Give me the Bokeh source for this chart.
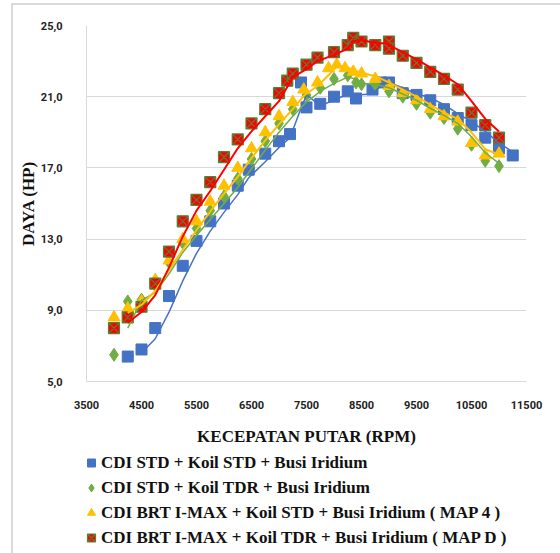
from bokeh.plotting import figure
from bokeh.layouts import column
from bokeh.models import FixedTicker, Legend, LegendItem, Range1d
from bokeh.embed import file_html
from bokeh.resources import INLINE

# ---- data ----
rpm_blue = [4250, 4500, 4750, 5000, 5250, 5500, 5750, 6000, 6250, 6450,
            6750, 7000, 7200, 7400, 7500, 7750, 8000, 8250, 8400, 8700,
            8850, 9000, 9250, 9500, 9750, 10000, 10250, 10500, 10750, 11000,
            11250]
hp_blue = [6.4, 6.8, 8.0, 9.8, 11.5, 12.9, 14.0, 15.0, 16.0, 16.9,
           17.8, 18.5, 18.9, 21.8, 20.4, 20.6, 21.0, 21.3, 20.9, 21.4,
           21.8, 21.8, 21.2, 21.1, 20.8, 20.3, 19.8, 19.4, 18.7, 18.1,
           17.7]

rpm_green = [4000, 4250, 4500, 4750, 5000, 5250, 5500, 5750, 6000, 6250,
             6500, 6750, 7000, 7250, 7500, 7750, 8000, 8250, 8400, 8500,
             8750, 9000, 9250, 9500, 9750, 10000, 10250, 10500, 10750, 11000]
hp_green = [6.5, 9.5, 9.6, 10.4, 11.7, 12.8, 13.6, 14.6, 15.4, 16.4,
            17.5, 18.5, 19.5, 20.3, 21.1, 21.5, 22.0, 22.2, 21.8, 21.7,
            21.7, 21.3, 21.0, 20.6, 20.1, 19.8, 19.2, 18.3, 17.4, 17.1]

rpm_yellow = [4000, 4250, 4500, 4750, 5000, 5250, 5500, 5750, 6000, 6250,
              6500, 6750, 7000, 7250, 7450, 7700, 7900, 8050, 8200, 8350,
              8500, 8750, 9000, 9250, 9500, 9750, 10000, 10250, 10500, 10750,
              11000]
hp_yellow = [8.6, 9.1, 9.5, 10.7, 11.8, 13.0, 14.0, 15.1, 16.0, 17.0,
             18.1, 19.0, 19.9, 20.7, 21.4, 21.8, 22.6, 22.8, 22.6, 22.4,
             22.3, 22.0, 21.6, 21.2, 20.8, 20.3, 19.9, 19.6, 18.4, 17.7,
             17.8]

rpm_red = [4000, 4250, 4500, 4750, 5000, 5250, 5500, 5750, 6000, 6250,
           6500, 6750, 7000, 7150, 7250, 7500, 7700, 8000, 8250, 8350,
           8500, 8750, 9000, 9000, 9250, 9500, 9750, 10000, 10250, 10500,
           10750, 11000]
hp_red = [8.0, 8.6, 9.2, 10.5, 12.3, 14.0, 15.2, 16.2, 17.6, 18.6,
          19.5, 20.3, 21.2, 21.9, 22.3, 22.8, 23.2, 23.5, 23.9, 24.3,
          24.1, 23.9, 24.1, 23.7, 23.3, 22.9, 22.4, 22.0, 21.4, 20.1,
          19.4, 18.7]

labels = ["CDI STD + Koil STD + Busi Iridium",
          "CDI STD + Koil TDR + Busi Iridium",
          "CDI BRT I-MAX + Koil STD + Busi Iridium ( MAP 4 )",
          "CDI BRT I-MAX + Koil TDR + Busi Iridium ( MAP D )"]

x_ticks = [3500, 4500, 5500, 6500, 7500, 8500, 9500, 10500, 11500]
y_ticks = [5, 9, 13, 17, 21, 25]
y_tick_labels = ["5,0", "9,0", "13,0", "17,0", "21,0", "25,0"]

styles = [
    dict(marker="square", fill_color="#4472C4", line_color="#4472C4", line_width=1),
    dict(marker="diamond", fill_color="#70AD47", line_color="#70AD47", line_width=1),
    dict(marker="triangle", fill_color="#FFC000", line_color="#FFC000", line_width=1),
    dict(marker="square_x", fill_color="#FF0000", line_color="#548235", line_width=1.2),
]
plot_sizes = [11, 13, 12, 11]
legend_sizes = [8, 10, 9, 8]


def moving_average(xs, ys):
    # 2-period moving average trendline
    return xs[1:], [(ys[i - 1] + ys[i]) / 2 for i in range(1, len(ys))]


p = figure(width=560, height=448, output_backend="svg", toolbar_location=None,
           x_range=Range1d(3500, 11500), y_range=Range1d(5, 25),
           min_border_left=86, min_border_right=34, min_border_top=25,
           min_border_bottom=67)
p.frame_align = False
p.outline_line_color = None
p.background_fill_color = "white"
p.border_fill_color = None

p.xgrid.grid_line_color = None
p.ygrid.grid_line_color = "#D9D9D9"
p.ygrid.grid_line_width = 1

p.xaxis.ticker = FixedTicker(ticks=x_ticks)
p.yaxis.ticker = FixedTicker(ticks=y_ticks)
p.yaxis.major_label_overrides = {t: l for t, l in zip(y_ticks, y_tick_labels)}

for ax in (p.xaxis[0], p.yaxis[0]):
    ax.axis_line_color = "#D9D9D9"
    ax.major_tick_line_color = None
    ax.minor_tick_line_color = None
    ax.major_label_text_font = "Roboto"
    ax.major_label_text_font_style = "bold"
    ax.major_label_text_font_size = "11px"
    ax.major_label_text_color = "#222222"
    ax.axis_label_text_font = "Liberation Serif"
    ax.axis_label_text_font_style = "bold"
    ax.axis_label_text_color = "#111111"

p.xaxis.major_label_standoff = 13
p.yaxis.major_label_standoff = 18
p.xaxis.axis_label = "KECEPATAN PUTAR (RPM)"
p.xaxis.axis_label_text_font_size = "17px"
p.xaxis.axis_label_standoff = 15
p.yaxis.axis_label = "DAYA (HP)"
p.yaxis.axis_label_text_font_size = "17px"
p.yaxis.axis_label_standoff = 0

series = [(rpm_blue, hp_blue), (rpm_green, hp_green),
          (rpm_yellow, hp_yellow), (rpm_red, hp_red)]
line_colors = ["#4472C4", "#70AD47", "#FFC000", "#FF0000"]
line_widths = [1.5, 1.5, 2, 2]

# markers
for (xs, ys), st, sz in zip(series, styles, plot_sizes):
    p.scatter(xs, ys, size=sz, **st)

# trendlines (2-period moving average)
for (xs, ys), col, w in zip(series, line_colors, line_widths):
    mx, my = moving_average(xs, ys)
    p.line(mx, my, line_color=col, line_width=w)

# ---- legend panel below the chart (its own canvas, data kept out of view) ----
lg = figure(width=560, height=105, output_backend="svg", toolbar_location=None,
            x_range=Range1d(0, 1), y_range=Range1d(0, 1),
            min_border=0, x_axis_location=None, y_axis_location=None)
lg.frame_align = False
lg.outline_line_color = None
lg.grid.visible = False
lg.background_fill_color = None
lg.border_fill_color = None

items = []
for lab, (xs, ys), st, sz in zip(labels, series, styles, legend_sizes):
    r = lg.scatter(xs, ys, size=sz, **st)
    items.append(LegendItem(label=lab, renderers=[r]))

legend = Legend(items=items, location=(81, 3), orientation="vertical")
legend.glyph_width = 20
legend.glyph_height = 25
legend.label_height = 25
legend.spacing = 0
legend.padding = 0
legend.margin = 0
legend.label_standoff = -3
legend.border_line_color = None
legend.background_fill_alpha = 0
legend.label_text_font = "Liberation Serif"
legend.label_text_font_style = "bold"
legend.label_text_font_size = "17px"
legend.label_text_color = "#111111"
lg.add_layout(legend)

layout = column(p, lg, spacing=0)
layout.styles = {
    "background": ("linear-gradient(#DADADA,#DADADA) 11px 3px / 549px 2px no-repeat, "
                   "linear-gradient(#DADADA,#DADADA) 11px 3px / 2px 550px no-repeat, white"),
}

open("out.html", "w").write(file_html(layout, INLINE))
